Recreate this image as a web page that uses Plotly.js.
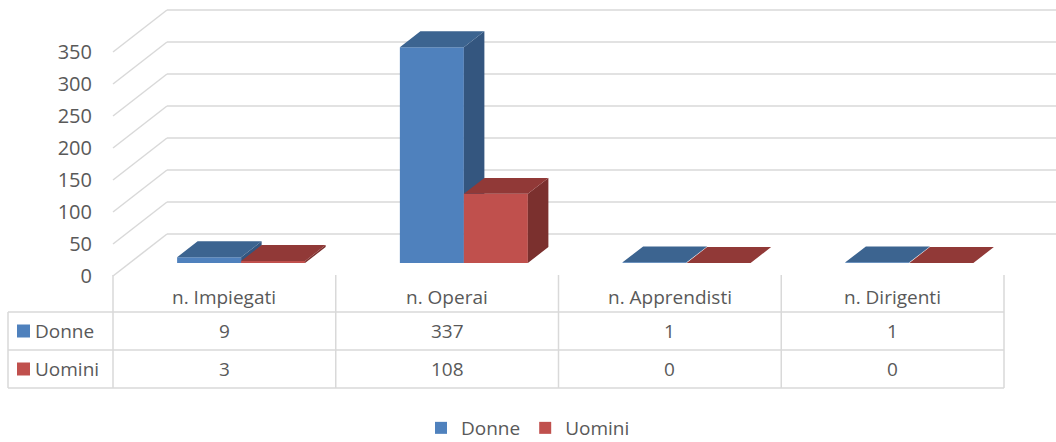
<!DOCTYPE html>
<html>
<head>
<meta charset="utf-8">
<script src="https://cdn.plot.ly/plotly-3.0.1.min.js"></script>
<style>
html,body{margin:0;padding:0;background:#fff;}
#chart{width:1056px;height:442px;}
</style>
</head>
<body>
<div id="chart"></div>
<script>
// ---- data ----
var categories = ["n. Impiegati", "n. Operai", "n. Apprendisti", "n. Dirigenti"];
var seriesNames = ["Donne", "Uomini"];
var donne = [9, 337, 1, 1];
var uomini = [3, 108, 0, 0];
var yTicks = [0, 50, 100, 150, 200, 250, 300, 350];

// ---- style / geometry constants ----
var W = 1056, H = 442;
var catPx = 222.75, x0Px = 113;       // front floor: category width & left edge in px
var pxPerVal = 0.64, zeroPy = 276;    // front floor: value scale
var DX = 54 / catPx, DY = 42 / pxPerVal;   // depth of floor (data units)
var bF = 0.31, bB = 0.69;             // bar depth span
var BW = 64 / catPx;                  // bar width (category units)
var xRange = [-x0Px / catPx, (W - x0Px) / catPx];
var yRange = [(zeroPy - H) / pxPerVal, zeroPy / pxPerVal];
var textCol = "#595959", gridCol = "#D9D9D9";
var FONT = "Open Sans";
var colors = {
  Donne: {front: "#4F81BD", top: "#3C6490", side: "#34567F"},
  Uomini: {front: "#C0504D", top: "#913937", side: "#7B302E"}
};
function py2paper(py){ return 1 - py / H; }

function buildSeries(name, values, side, xa, ya) {
  var c = colors[name];
  var bx = [];
  var topX = [], topY = [], sideX = [], sideY = [];
  values.forEach(function (v, i) {
    var ctr = i + 0.5;
    var uL = side < 0 ? ctr - BW : ctr;
    var uR = uL + BW;
    bx.push((uL + uR) / 2 + DX * bF);
    // top face
    topX.push(uL + DX * bF, uR + DX * bF, uR + DX * bB, uL + DX * bB, uL + DX * bF, null);
    topY.push(v + DY * bF, v + DY * bF, v + DY * bB, v + DY * bB, v + DY * bF, null);
    // right side face
    if (v > 0) {
      sideX.push(uR + DX * bF, uR + DX * bB, uR + DX * bB, uR + DX * bF, uR + DX * bF, null);
      sideY.push(DY * bF, DY * bB, v + DY * bB, v + DY * bF, DY * bF, null);
    }
  });
  return [
    {type: "bar", name: name, x: bx, y: values, base: DY * bF, width: BW,
     marker: {color: c.front, line: {width: 0}}, xaxis: xa, yaxis: ya,
     showlegend: true, hoverinfo: "skip"},
    {type: "scatter", mode: "lines", x: sideX, y: sideY, fill: "toself",
     fillcolor: c.side, line: {width: 0, color: c.side}, xaxis: xa, yaxis: ya,
     showlegend: false, hoverinfo: "skip"},
    {type: "scatter", mode: "lines", x: topX, y: topY, fill: "toself",
     fillcolor: c.top, line: {width: 0, color: c.top}, xaxis: xa, yaxis: ya,
     showlegend: false, hoverinfo: "skip"}
  ];
}

var traces = [].concat(
  buildSeries("Donne", donne, -1, "x", "y"),
  buildSeries("Uomini", uomini, 1, "x2", "y2")
);

// ---- gridlines (side + back walls) ----
var shapes = [];
yTicks.forEach(function (t) {
  shapes.push({type: "line", xref: "x", yref: "y", x0: 0, y0: t, x1: DX, y1: t + DY,
    line: {color: gridCol, width: 1.5}, layer: "below"});
  shapes.push({type: "line", xref: "x", yref: "y", x0: DX, y0: t + DY, x1: categories.length + DX, y1: t + DY,
    line: {color: gridCol, width: 1.5}, layer: "below"});
});

// ---- data table ----
var rowHeadPy = 297, rowPy = [331, 369];
var tTop = 275, hLines = [312, 350, 388], tLeftPx = 8;
for (var i = 0; i <= categories.length; i++) {
  shapes.push({type: "line", xref: "x", yref: "paper", x0: i, x1: i,
    y0: py2paper(tTop), y1: py2paper(hLines[2]), line: {color: gridCol, width: 1.5}});
}
hLines.forEach(function (py) {
  shapes.push({type: "line", xref: "paper", yref: "paper", x0: tLeftPx / W, x1: (x0Px + catPx * categories.length) / W,
    y0: py2paper(py), y1: py2paper(py), line: {color: gridCol, width: 1.5}});
});
shapes.push({type: "line", xref: "paper", yref: "paper", x0: tLeftPx / W, x1: tLeftPx / W,
  y0: py2paper(hLines[0]), y1: py2paper(hLines[2]), line: {color: gridCol, width: 1.5}});

var annotations = [];
categories.forEach(function (cat, i) {
  annotations.push({xref: "x", yref: "paper", x: i + 0.5, y: py2paper(rowHeadPy), text: cat,
    showarrow: false, xanchor: "center", yanchor: "middle", font: {family: FONT, size: 19, color: textCol}});
});
[donne, uomini].forEach(function (vals, r) {
  var name = seriesNames[r];
  vals.forEach(function (v, i) {
    annotations.push({xref: "x", yref: "paper", x: i + 0.5, y: py2paper(rowPy[r]), text: String(v),
      showarrow: false, xanchor: "center", yanchor: "middle", font: {family: FONT, size: 19, color: textCol}});
  });
  annotations.push({xref: "paper", yref: "paper", x: 33 / W, y: py2paper(rowPy[r]), text: name,
    showarrow: false, xanchor: "left", yanchor: "middle", font: {family: FONT, size: 19, color: textCol}});
  shapes.push({type: "rect", xref: "paper", yref: "paper", x0: 17 / W, x1: 30 / W,
    y0: py2paper(rowPy[r] + 6.5), y1: py2paper(rowPy[r] - 6.5),
    fillcolor: colors[name].front, line: {width: 0}});
});

var layout = {
  width: W, height: H,
  margin: {l: 0, r: 0, t: 0, b: 0, pad: 0, autoexpand: false},
  paper_bgcolor: "#ffffff", plot_bgcolor: "rgba(0,0,0,0)",
  barmode: "overlay",
  showlegend: true,
  legend: {orientation: "h", x: 0.5, xanchor: "center", y: py2paper(428), yanchor: "middle",
    font: {family: FONT, size: 19, color: textCol}, traceorder: "normal", itemwidth: 30},
  xaxis: {range: xRange, visible: false, fixedrange: true},
  yaxis: {range: yRange, anchor: "free", position: 92 / W, tickvals: yTicks,
    showgrid: false, zeroline: false, showline: false, ticks: "",
    tickfont: {family: FONT, size: 20, color: textCol}, fixedrange: true},
  xaxis2: {range: xRange, overlaying: "x", anchor: "y2", visible: false, fixedrange: true},
  yaxis2: {range: yRange, overlaying: "y", anchor: "x2", visible: false, fixedrange: true},
  shapes: shapes,
  annotations: annotations,
  font: {family: FONT, color: textCol}
};

Plotly.newPlot("chart", traces, layout, {displayModeBar: false, staticPlot: true});
</script>
</body>
</html>
